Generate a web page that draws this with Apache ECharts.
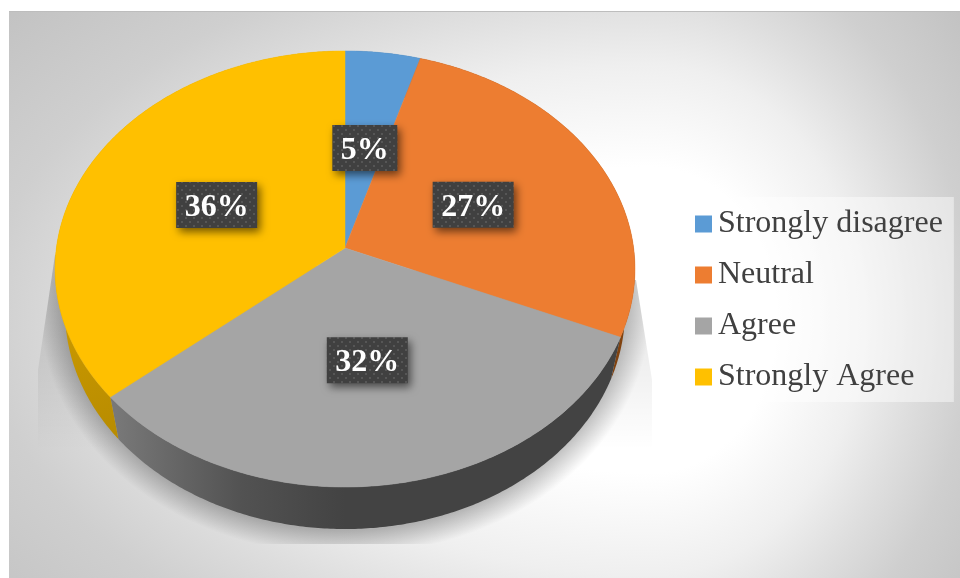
<!DOCTYPE html>
<html>
<head>
<meta charset="utf-8">
<style>html,body{margin:0;padding:0;background:#fff}#c{width:960px;height:578px}</style>
<script src="https://cdn.jsdelivr.net/npm/echarts@6/dist/echarts.min.js"></script>
</head>
<body>
<div id="c"></div>
<script>
const categories = ['Strongly disagree', 'Neutral', 'Agree', 'Strongly Agree'];
const sliceValues = [4.6, 26.9, 32.3, 36.2];
const topColors = ['#5b9bd5', '#ed7d31', '#a5a5a5', '#ffc000'];

const chart = echarts.init(document.getElementById('c'), null, {renderer: 'canvas'});
const total = sliceValues.reduce((a, b) => a + b, 0);
const starts = sliceValues.map((v, i) => sliceValues.slice(0, i).reduce((a, b) => a + b, 0));

// perspective projection of the pie disc
const k = -0.0963;
const topDisc = {cx: 345, cy: 248, A: 288.6, B: 216};
const lowDisc = {cx: 345, cy: 290, A: 278.7, B: 216};
function proj(d, theta, f) {
  const X = f * Math.sin(theta), Y = -f * Math.cos(theta), w = 1 + k * Y;
  return [d.cx + d.A * X / w, d.cy + d.B * Y / w];
}
function arc(d, a0, a1) {
  const n = Math.max(2, Math.ceil((a1 - a0) / 0.01)), pts = [];
  for (let j = 0; j <= n; j++) pts.push(proj(d, a0 + (a1 - a0) * j / n, 1));
  return pts;
}
function globalLinear(x0, y0, x1, y1, stops) {
  return {type: 'linear', x: x0, y: y0, x2: x1, y2: y1, global: true,
    colorStops: stops.map(s => ({offset: s[0], color: s[1]}))};
}
const wallFills = [
  '#3a6d99',
  '#80420f',
  globalLinear(116, 0, 345, 0, [[0, '#787878'], [0.55, '#525252'], [1, '#434343']]),
  globalLinear(60, 300, 116, 435, [[0, '#cc9a00'], [1, '#b88c00']])
];

// dotted label tile
const tile = document.createElement('canvas');
tile.width = 8; tile.height = 8;
(function () {
  const c = tile.getContext('2d');
  c.fillStyle = '#404040'; c.fillRect(0, 0, 8, 8);
  c.fillStyle = '#565656';
  c.fillRect(1, 1, 2, 2); c.fillRect(5, 5, 2, 2);
})();
const measure = document.createElement('canvas').getContext('2d');
const labelFont = 'bold 32px "Liberation Serif"';
measure.font = labelFont;

function sliceSeries(i) {
  return {
    type: 'custom',
    name: categories[i],
    coordinateSystem: 'none',
    silent: true,
    itemStyle: {color: topColors[i]},
    data: [sliceValues[i]],
    renderItem: function () {
      const a0 = starts[i] / total * 2 * Math.PI;
      const a1 = (starts[i] + sliceValues[i]) / total * 2 * Math.PI;
      const rim = arc(topDisc, a0, a1);
      const low = arc(lowDisc, a0, a1).reverse();
      const am = (a0 + a1) / 2;
      const mid = proj(topDisc, am, 0.5);
      mid[1] += 1 + Math.cos(am);
      const text = Math.round(sliceValues[i] / total * 100) + '%';
      const w = measure.measureText(text).width + 17, h = 46;
      return {
        type: 'group',
        children: [
          {type: 'polygon', z2: 5, shape: {points: rim.concat(low)},
            style: {fill: wallFills[i]}},
          {type: 'polygon', z2: 10, shape: {points: [[topDisc.cx, topDisc.cy]].concat(rim)},
            style: {fill: topColors[i], stroke: topColors[i], lineWidth: 0.5}},
          {type: 'rect', z2: 20, shape: {x: mid[0] - w / 2, y: mid[1] - h / 2, width: w, height: h},
            style: {fill: {image: tile, repeat: 'repeat'}, shadowColor: 'rgba(0,0,0,0.55)',
              shadowBlur: 8, shadowOffsetX: 3, shadowOffsetY: 4}},
          {type: 'text', z2: 21, x: mid[0], y: mid[1] + 3,
            style: {text: text, fill: '#ffffff', font: labelFont, align: 'center', verticalAlign: 'middle'}}
        ]
      };
    }
  };
}

// cast shadow under the disc
const shadowOutline = [[55, 255], [38, 370], [38, 544], [652, 544], [652, 380], [636, 280]];
const shadowScale = 0.8;
const shadowSeries = {
  type: 'custom',
  coordinateSystem: 'none',
  silent: true,
  data: [0],
  z: 1,
  renderItem: function () {
    return {
      type: 'group',
      children: [
        {type: 'polygon', z2: 0, shape: {points: shadowOutline},
          style: {fill: globalLinear(0, 255, 0, 450, [[0, 'rgba(0,0,0,0.14)'], [1, 'rgba(0,0,0,0)']])}},
        {type: 'polygon', z2: 1, x: 345, y: 311, scaleX: 1, scaleY: shadowScale,
          shape: {points: shadowOutline.map(p => [p[0] - 345, (p[1] - 311) / shadowScale])},
          style: {fill: {type: 'radial', x: 0, y: 0, r: 305, global: true, colorStops: [
            {offset: 0, color: 'rgba(0,0,0,0.26)'},
            {offset: 0.9, color: 'rgba(0,0,0,0.26)'},
            {offset: 1, color: 'rgba(0,0,0,0)'}]}}}
      ]
    };
  }
};

// page backdrop: one off-centre glow, stretched towards the left
const glowStops = [
  {offset: 0, color: '#ffffff'}, {offset: 0.3, color: '#ffffff'},
  {offset: 0.5, color: '#efefef'}, {offset: 0.63, color: '#dedede'},
  {offset: 0.756, color: '#cfcfcf'}, {offset: 1, color: '#bfbfbf'}];
const glowFill = {type: 'radial', x: 0, y: 0, r: 425, global: true, colorStops: glowStops};
const glowLeft = 2.07, glowY = 1.2;

chart.setOption({
  animation: false,
  tooltip: {show: false},
  graphic: {elements: [
    {type: 'rect', z: 0, x: 650, y: 320, scaleX: glowLeft, scaleY: glowY,
      shape: {x: -641 / glowLeft, y: -309 / glowY, width: 641 / glowLeft + 1, height: 567 / glowY},
      style: {fill: glowFill}},
    {type: 'rect', z: 0, x: 650, y: 320, scaleX: 1, scaleY: glowY,
      shape: {x: 0, y: -309 / glowY, width: 310, height: 567 / glowY},
      style: {fill: glowFill}},
    {type: 'rect', z: 0, shape: {x: 9, y: 11, width: 951, height: 1}, style: {fill: '#bdbdbd'}}
  ]},
  legend: {
    data: categories,
    orient: 'vertical',
    left: 680,
    top: 197,
    padding: [8, 11, 6, 15],
    itemWidth: 17,
    itemHeight: 17,
    itemGap: 13,
    backgroundColor: 'rgba(255,255,255,0.45)',
    selectedMode: false,
    icon: 'rect',
    textStyle: {fontFamily: 'Liberation Serif', fontSize: 32, lineHeight: 34, color: '#404040', padding: [4, 0, 0, 1]}
  },
  series: [shadowSeries].concat(categories.map((c, i) => sliceSeries(i)))
});
</script>
</body>
</html>
